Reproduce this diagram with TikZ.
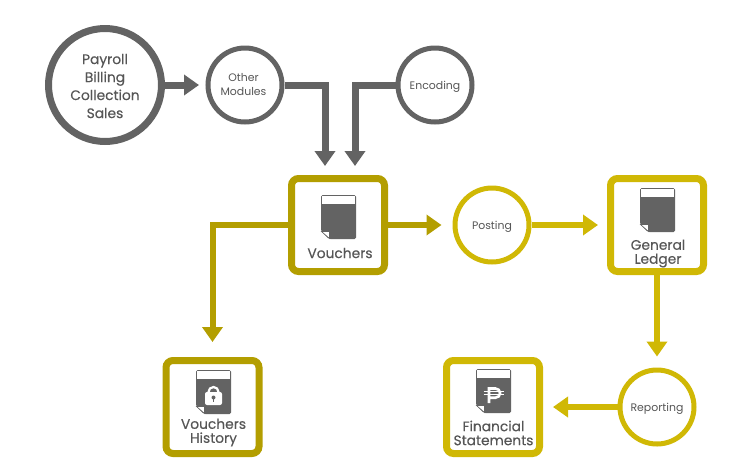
\documentclass[tikz,border=0pt]{standalone}
\usepackage{fontspec}
\setmainfont{Poppins}[UprightFeatures={FakeBold=0.25}]
\newfontfamily\smallfont{Poppins}
\usetikzlibrary{arrows.meta,calc}
\definecolor{gry}{HTML}{636363}
\definecolor{txt}{HTML}{565656}
\definecolor{dky}{HTML}{B39E00}
\definecolor{lty}{HTML}{D0B805}
\tikzset{
  circ/.style={circle,draw=#1,fill=white,inner sep=0pt,line width=5pt,minimum size=74pt},
  bigcirc/.style={circle,draw=gry,fill=white,inner sep=0pt,line width=7pt,minimum size=113pt},
  bx/.style={rectangle,draw=#1,fill=white,line width=7pt,rounded corners=7pt,minimum size=93pt,inner sep=0pt},
  arr/.style 2 args={draw=#1,line width=#2,-{Triangle[length=15pt,width=20pt,fill=#1]}},
  lab/.style={text=txt,align=center,font=\fontsize{13.8}{14}\selectfont,inner sep=0pt},
  biglab/.style={text=txt,align=center,font=\fontsize{13.8}{18}\selectfont,inner sep=0pt},
  small/.style={text=txt,align=center,font=\smallfont\fontsize{10.9}{14}\selectfont,inner sep=0pt},
  pics/docicon/.style={code={
    \fill[gry,rounded corners=1.5pt] (-17.5,0) -- (17.5,0) -- (17.5,44) -- (-9.5,44) -- (-17.5,36) -- cycle;
    \fill[white] (-16.5,1.2) rectangle (16.5,8.6);
    \fill[white,draw=gry,line width=.6pt] (-17,36.5) -- (-9,36.5) -- (-9,43.5) -- cycle;
  }},
  pics/lockicon/.style={code={
    \fill[white,rounded corners=2pt] (-8.5,22) rectangle (8.5,35);
    \draw[white,line width=2.2pt] (-5,23) -- (-5,22) arc[start angle=180,end angle=360,radius=5] -- (5,23);
    \fill[gry] (0,27.5) circle (2);
    \fill[gry] (-.8,28) rectangle (.8,32);
  }},
  pics/pesoicon/.style={code={
    \draw[white,line width=2.6pt] (-4.5,34) -- (-4.5,19.5) -- (2,19.5) arc[start angle=-90,end angle=90,radius=4.6] -- (-4.5,28.7);
    \draw[white,line width=1.4pt] (-10,22.6) -- (10,22.6) (-10,25.6) -- (10,25.6);
  }}
}
\begin{document}
\begin{tikzpicture}[x=1pt,y=-1pt]
\useasboundingbox (0,0) rectangle (750,475);
\node[bigcirc] (pay) at (105,85) {};
\node[circ=gry] (oth) at (245,85) {};
\node[circ=gry] (enc) at (435,85) {};
\node[bx=dky] (vou) at (338,225) {};
\node[circ=lty] (pos) at (492,225) {};
\node[bx=lty] (gen) at (657,225) {};
\node[bx=dky] (his) at (212.5,407) {};
\node[circ=lty] (rep) at (657,407) {};
\node[bx=lty] (fin) at (493,407) {};

\draw[arr={gry}{7pt},shorten >=6.5pt] (pay.east) -- (oth.west);
\draw[arr={gry}{7pt},shorten >=9pt] (oth.east) -| ([xshift=-13pt]vou.north);
\draw[arr={gry}{7pt},shorten >=9pt] (enc.west) -| ([xshift=17pt]vou.north);
\draw[arr={dky}{6pt},shorten >=11pt] (vou.east) -- (pos.west);
\draw[arr={dky}{6pt},shorten >=15pt] (vou.west) -| (his.north);
\draw[arr={lty}{6pt},shorten >=9pt] (pos.east) -- (gen.west);
\draw[arr={lty}{6pt},shorten >=11pt] (gen.south) -- (rep.north);
\draw[arr={lty}{6pt},shorten >=10pt] (rep.west) -- (fin.east);

\node[biglab] (tpay) at (105,86) {Payroll\\Billing\\Collection\\Sales};
\node[small] (toth) at (243.5,84.5) {Other\\Modules};
\node[small] (tenc) at (435,86.5) {Encoding};
\node[small] (tpos) at (492,226.5) {Posting};
\node[small] (trep) at (657,408.5) {Reporting};

\pic at (338.5,195) {docicon};
\node[lab] (tvou) at (340,253) {Vouchers};
\pic at (657.5,188) {docicon};
\node[lab] (tgen) at (658,253.5) {General\\Ledger};
\pic at (213.5,370) {docicon};
\pic at (213.5,370) {lockicon};
\node[lab] (this) at (213.5,432.5) {Vouchers\\History};
\pic at (493.5,369) {docicon};
\pic at (493.5,369) {pesoicon};
\node[lab] (tfin) at (493.5,433) {Financial\\Statements};
\end{tikzpicture}
\end{document}
